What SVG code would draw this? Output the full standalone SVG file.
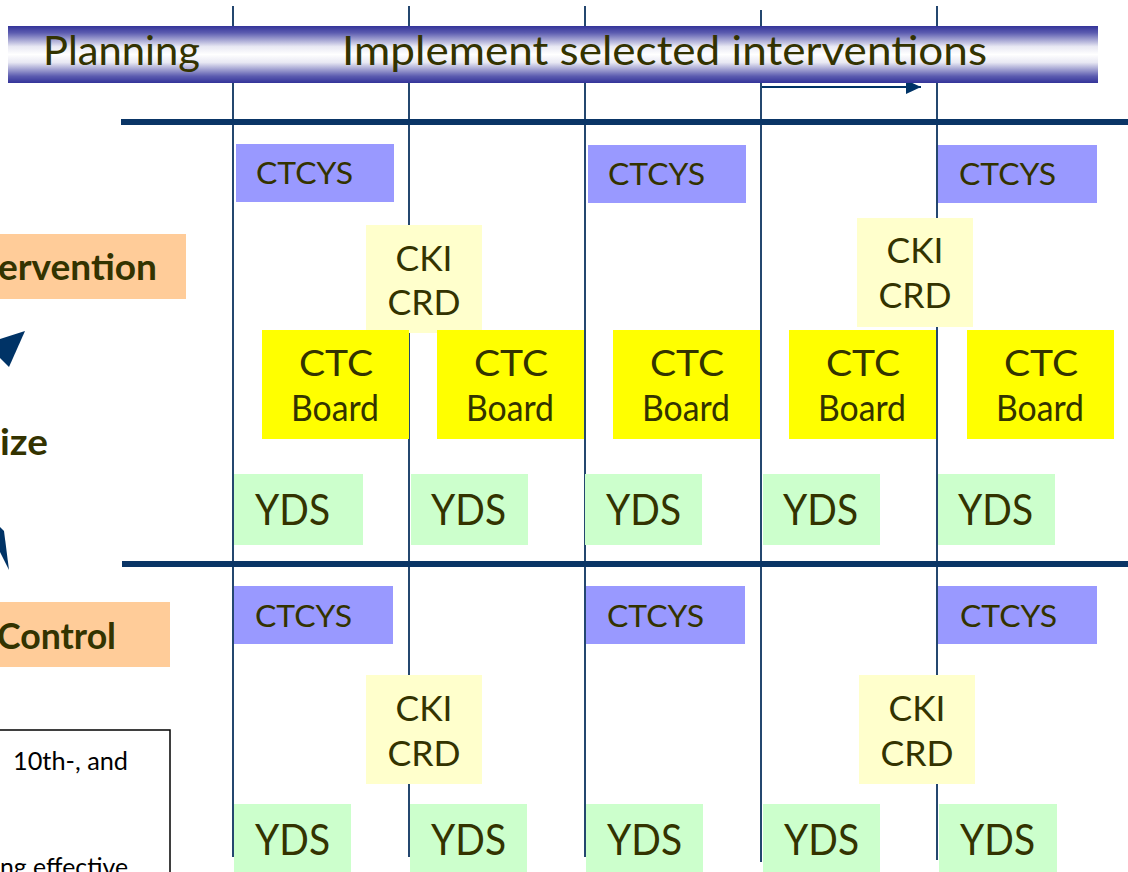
<svg xmlns="http://www.w3.org/2000/svg" width="1128" height="872" viewBox="0 0 1128 872">
<defs>
<linearGradient id="hdr" x1="0" y1="0" x2="0" y2="1">
<stop offset="0" stop-color="#333399"/>
<stop offset="0.12" stop-color="#5c5cb0"/>
<stop offset="0.36" stop-color="#e8e8f3"/>
<stop offset="0.5" stop-color="#ffffff"/>
<stop offset="0.64" stop-color="#e8e8f3"/>
<stop offset="0.88" stop-color="#5c5cb0"/>
<stop offset="1" stop-color="#333399"/>
</linearGradient>
<marker id="ah" viewBox="0 0 15 14" refX="15" refY="7" markerWidth="15" markerHeight="14" markerUnits="userSpaceOnUse" orient="auto">
<path d="M0,0 L15,7 L0,14 Z" fill="#003366"/>
</marker>
</defs>
<style>
text{font-family:Lato,"Liberation Sans",sans-serif;fill:#333300}
.t{font-size:30px}
.k{font-size:34px;text-anchor:middle}
.b{font-size:36px;text-anchor:middle}
.y{font-size:42px}
.h{font-size:40px}
.l{font-size:36px;font-weight:bold}
.n{font-size:25px;fill:#000}
.vl{stroke:#24476f;stroke-width:2}
.th{stroke:#0a3566;stroke-width:6}
.cy{fill:#9999ff}
.ck{fill:#ffffcc}
.cb{fill:#ffff00}
.yd{fill:#ccffcc}
.or{fill:#ffcc99}
</style>
<rect width="1128" height="872" fill="#ffffff"/>

<g id="connectors">
<line class="vl" x1="233" y1="6" x2="233" y2="857"/>
<line class="vl" x1="409" y1="6" x2="409" y2="857"/>
<line class="vl" x1="585" y1="6" x2="585" y2="857"/>
<line class="vl" x1="761" y1="10" x2="761" y2="862"/>
<line class="vl" x1="937" y1="6" x2="937" y2="860"/>
<line class="th" x1="121" y1="122" x2="1128" y2="122"/>
<line class="th" x1="122" y1="564" x2="1128" y2="564"/>
<line x1="762" y1="87" x2="921" y2="87" stroke="#003366" stroke-width="2" marker-end="url(#ah)"/>
<polygon points="0,339 25,331 9,367 0,358" fill="#003366"/>
<polygon points="0,527 4,531 9,570 0,552" fill="#003366"/>
</g>

<g id="header">
<rect x="8" y="26" width="225" height="57" fill="url(#hdr)"/>
<rect x="233" y="26" width="865" height="57" fill="url(#hdr)"/>
<text class="h" x="43" y="65" textLength="157" lengthAdjust="spacingAndGlyphs">Planning</text>
<text class="h" x="342" y="65" textLength="645" lengthAdjust="spacingAndGlyphs">Implement selected interventions</text>
</g>

<g id="label-intervention">
<rect class="or" x="0" y="234" width="186" height="65"/>
<text class="l" x="-2" y="280" textLength="159" lengthAdjust="spacingAndGlyphs">ervention</text>
</g>
<g id="label-ize">
<text class="l" x="0" y="455" textLength="48" lengthAdjust="spacingAndGlyphs">ize</text>
</g>
<g id="label-control">
<rect class="or" x="0" y="602" width="170" height="65"/>
<text class="l" x="-3" y="649" textLength="119" lengthAdjust="spacingAndGlyphs">Control</text>
</g>
<g id="note">
<rect x="-5" y="730" width="175" height="200" fill="#ffffff" stroke="#000" stroke-width="1.5"/>
<text class="n" x="13" y="770" textLength="115" lengthAdjust="spacingAndGlyphs">10th-, and</text>
<text class="n" x="0" y="876" textLength="128" lengthAdjust="spacingAndGlyphs">ng effective</text>
</g>

<!-- top section -->
<g id="ctcys-t1"><rect class="cy" x="236" y="144" width="158" height="58"/><text class="t" x="256" y="184" textLength="97" lengthAdjust="spacingAndGlyphs">CTCYS</text></g>
<g id="ctcys-t2"><rect class="cy" x="588" y="145" width="158" height="58"/><text class="t" x="608" y="185" textLength="97" lengthAdjust="spacingAndGlyphs">CTCYS</text></g>
<g id="ctcys-t3"><rect class="cy" x="938" y="145" width="159" height="58"/><text class="t" x="959" y="185" textLength="97" lengthAdjust="spacingAndGlyphs">CTCYS</text></g>

<g id="cki-t1"><rect class="ck" x="366" y="225" width="116" height="108"/><text class="k" x="424" y="271" textLength="57" lengthAdjust="spacingAndGlyphs">CKI</text><text class="k" x="424" y="315" textLength="73" lengthAdjust="spacingAndGlyphs">CRD</text></g>
<g id="cki-t2"><rect class="ck" x="857" y="218" width="116" height="109"/><text class="k" x="915" y="263" textLength="57" lengthAdjust="spacingAndGlyphs">CKI</text><text class="k" x="915" y="308" textLength="73" lengthAdjust="spacingAndGlyphs">CRD</text></g>

<g id="board-1"><rect class="cb" x="262" y="330" width="147" height="109"/><text class="b" x="336" y="376" textLength="74" lengthAdjust="spacingAndGlyphs">CTC</text><text class="b" x="335" y="421" textLength="88" lengthAdjust="spacingAndGlyphs">Board</text></g>
<g id="board-2"><rect class="cb" x="437" y="330" width="147" height="109"/><text class="b" x="511" y="376" textLength="74" lengthAdjust="spacingAndGlyphs">CTC</text><text class="b" x="510" y="421" textLength="88" lengthAdjust="spacingAndGlyphs">Board</text></g>
<g id="board-3"><rect class="cb" x="613" y="330" width="147" height="109"/><text class="b" x="687" y="376" textLength="74" lengthAdjust="spacingAndGlyphs">CTC</text><text class="b" x="686" y="421" textLength="88" lengthAdjust="spacingAndGlyphs">Board</text></g>
<g id="board-4"><rect class="cb" x="789" y="330" width="147" height="109"/><text class="b" x="863" y="376" textLength="74" lengthAdjust="spacingAndGlyphs">CTC</text><text class="b" x="862" y="421" textLength="88" lengthAdjust="spacingAndGlyphs">Board</text></g>
<g id="board-5"><rect class="cb" x="967" y="330" width="147" height="109"/><text class="b" x="1041" y="376" textLength="74" lengthAdjust="spacingAndGlyphs">CTC</text><text class="b" x="1040" y="421" textLength="88" lengthAdjust="spacingAndGlyphs">Board</text></g>

<g id="yds-t1"><rect class="yd" x="234" y="474" width="129" height="71"/><text class="y" x="255" y="525" textLength="75" lengthAdjust="spacingAndGlyphs">YDS</text></g>
<g id="yds-t2"><rect class="yd" x="411" y="474" width="117" height="71"/><text class="y" x="431" y="525" textLength="75" lengthAdjust="spacingAndGlyphs">YDS</text></g>
<g id="yds-t3"><rect class="yd" x="585" y="474" width="117" height="71"/><text class="y" x="606" y="525" textLength="75" lengthAdjust="spacingAndGlyphs">YDS</text></g>
<g id="yds-t4"><rect class="yd" x="763" y="474" width="117" height="71"/><text class="y" x="783" y="525" textLength="75" lengthAdjust="spacingAndGlyphs">YDS</text></g>
<g id="yds-t5"><rect class="yd" x="938" y="474" width="117" height="71"/><text class="y" x="958" y="525" textLength="75" lengthAdjust="spacingAndGlyphs">YDS</text></g>

<!-- bottom section -->
<g id="ctcys-b1"><rect class="cy" x="234" y="586" width="159" height="58"/><text class="t" x="255" y="627" textLength="97" lengthAdjust="spacingAndGlyphs">CTCYS</text></g>
<g id="ctcys-b2"><rect class="cy" x="586" y="586" width="159" height="58"/><text class="t" x="607" y="627" textLength="97" lengthAdjust="spacingAndGlyphs">CTCYS</text></g>
<g id="ctcys-b3"><rect class="cy" x="938" y="586" width="159" height="58"/><text class="t" x="960" y="627" textLength="97" lengthAdjust="spacingAndGlyphs">CTCYS</text></g>

<g id="cki-b1"><rect class="ck" x="366" y="675" width="116" height="109"/><text class="k" x="424" y="721" textLength="57" lengthAdjust="spacingAndGlyphs">CKI</text><text class="k" x="424" y="766" textLength="73" lengthAdjust="spacingAndGlyphs">CRD</text></g>
<g id="cki-b2"><rect class="ck" x="859" y="675" width="116" height="109"/><text class="k" x="917" y="721" textLength="57" lengthAdjust="spacingAndGlyphs">CKI</text><text class="k" x="917" y="766" textLength="73" lengthAdjust="spacingAndGlyphs">CRD</text></g>

<g id="yds-b1"><rect class="yd" x="234" y="804" width="117" height="70"/><text class="y" x="255" y="855" textLength="75" lengthAdjust="spacingAndGlyphs">YDS</text></g>
<g id="yds-b2"><rect class="yd" x="410" y="804" width="117" height="70"/><text class="y" x="431" y="855" textLength="75" lengthAdjust="spacingAndGlyphs">YDS</text></g>
<g id="yds-b3"><rect class="yd" x="586" y="804" width="117" height="70"/><text class="y" x="607" y="855" textLength="75" lengthAdjust="spacingAndGlyphs">YDS</text></g>
<g id="yds-b4"><rect class="yd" x="763" y="804" width="117" height="70"/><text class="y" x="784" y="855" textLength="75" lengthAdjust="spacingAndGlyphs">YDS</text></g>
<g id="yds-b5"><rect class="yd" x="939" y="804" width="118" height="70"/><text class="y" x="960" y="855" textLength="75" lengthAdjust="spacingAndGlyphs">YDS</text></g>
</svg>
